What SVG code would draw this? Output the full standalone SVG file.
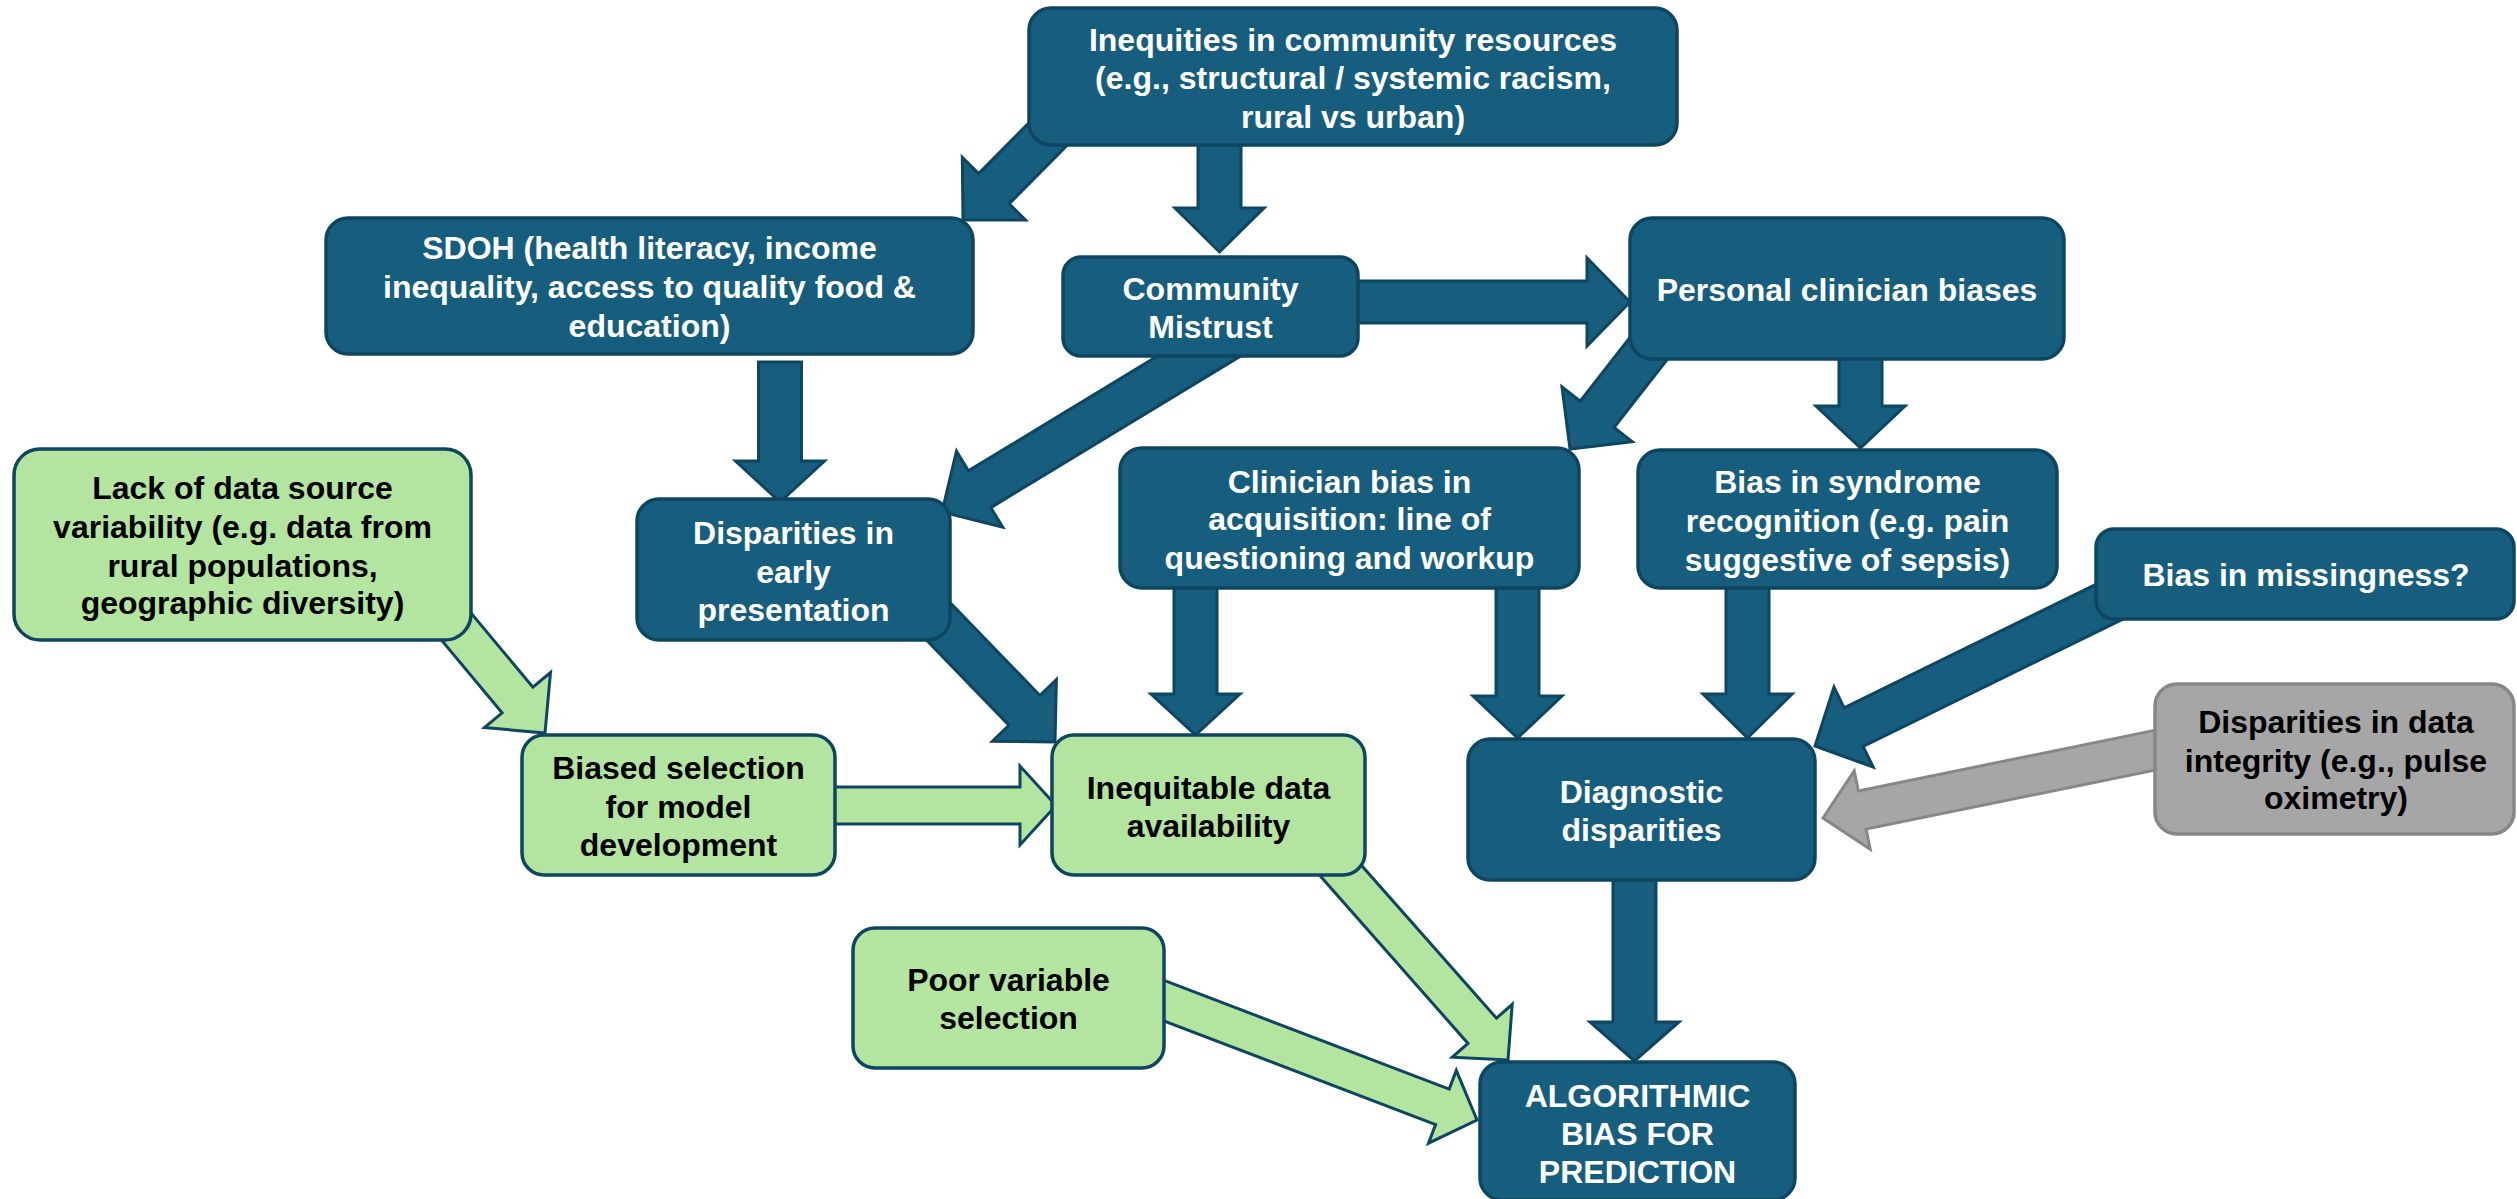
<svg xmlns="http://www.w3.org/2000/svg" width="2517" height="1199" viewBox="0 0 2517 1199">
<style>
  .blue { fill: #175E7E; stroke: #0E4560; stroke-width: 3.5; }
  .green { fill: #B3E5A1; stroke: #0E4560; stroke-width: 3.5; }
  .gray { fill: #A6A6A6; stroke: #878787; stroke-width: 3.5; }
  .ab { fill: #175E7E; stroke: #0E4560; stroke-width: 3; stroke-linejoin: miter; }
  .ag { fill: #B3E5A1; stroke: #0E4560; stroke-width: 3; stroke-linejoin: miter; }
  .agr { fill: #A6A6A6; stroke: #878787; stroke-width: 3; stroke-linejoin: miter; }
  text { font-family: "Liberation Sans", Arial, sans-serif; font-weight: bold; font-size: 32px; text-anchor: middle; }
  .tw { fill: #FFFFFF; }
  .tk { fill: #000000; }
</style>
<rect width="2517" height="1199" fill="#FFFFFF"/>
<g id="connectors">
  <polygon class="ab" points="1053.2,98.2 978.6,173.6 962.3,157.4 963,220 1025.5,220 1009.2,203.8 1083.8,128.4"/>
  <polygon class="ab" points="1198,140 1198,208 1175,208 1219.5,252 1264,208 1241,208 1241,140"/>
  <polygon class="ab" points="1350,281 1587,281 1587,258 1630,302 1587,346 1587,323 1350,323"/>
  <polygon class="ab" points="1651.7,309.7 1580.2,401.1 1562,386.9 1570,449 1632.2,441.7 1614,427.5 1685.5,336.1"/>
  <polygon class="ab" points="1839,354 1839,406 1816,406 1860.5,448 1905,406 1882,406 1882,354"/>
  <polygon class="ab" points="1225.8,314.6 968.4,470.8 956.5,451.2 942,512 1002.7,527.2 990.8,507.6 1248.2,351.4"/>
  <polygon class="ab" points="758.5,362 758.5,461 735.5,461 780,502 824.5,461 801.5,461 801.5,362"/>
  <polygon class="ab" points="900.5,613.1 1008.9,725.3 992.4,741.3 1055,742 1056.4,679.5 1039.9,695.5 931.5,583.3"/>
  <polygon class="ab" points="1174,583 1174,694 1151,694 1195.5,735 1240,694 1217,694 1217,583"/>
  <polygon class="ab" points="1496,583 1496,696 1473,696 1517.5,738 1562,696 1539,696 1539,583"/>
  <polygon class="ab" points="1726,583 1726,694 1703,694 1747.5,738 1792,694 1769,694 1769,583"/>
  <polygon class="ab" points="2110.8,577.1 1844.1,707.8 1834,687.1 1815,746 1873.2,767.1 1863.1,746.4 2129.8,615.7"/>
  <polygon class="agr" points="2161.8,728.9 1858.3,790.9 1854.2,770.8 1823,818 1870.2,849.2 1866.1,829.1 2169.6,767.1"/>
  <polygon class="ab" points="1613,876 1613,1022 1590,1022 1634.5,1061 1679,1022 1656,1022 1656,876"/>
  <polygon class="ag" points="414.4,607.6 502.1,712.8 484.5,727.5 545,733 550.5,672.5 532.9,687.2 445.2,582"/>
  <polygon class="ag" points="830,787 1020,787 1020,766 1056,805.5 1020,845 1020,824 830,824"/>
  <polygon class="ag" points="1308.4,862.6 1468,1043.4 1452.2,1057.3 1508,1060 1512.2,1004.3 1496.5,1018.2 1336.8,837.4"/>
  <polygon class="ag" points="1143.3,1013.1 1435.6,1124.5 1428.5,1143.2 1477,1120 1456.3,1070.4 1449.2,1089.1 1156.9,977.7"/>
</g>
<g id="node-inequities">
  <rect class="blue" x="1029" y="8" width="648" height="137" rx="22"/>
  <text class="tw" x="1353" y="51">Inequities in community resources</text>
  <text class="tw" x="1353" y="89">(e.g., structural / systemic racism,</text>
  <text class="tw" x="1353" y="128">rural vs urban)</text>
</g>
<g id="node-sdoh">
  <rect class="blue" x="326" y="218" width="647" height="136" rx="22"/>
  <text class="tw" x="649.5" y="259">SDOH (health literacy, income</text>
  <text class="tw" x="649.5" y="298">inequality, access to quality food &amp;</text>
  <text class="tw" x="649.5" y="337">education)</text>
</g>
<g id="node-community-mistrust">
  <rect class="blue" x="1063" y="257" width="295" height="99" rx="18"/>
  <text class="tw" x="1210.5" y="300">Community</text>
  <text class="tw" x="1210.5" y="338">Mistrust</text>
</g>
<g id="node-personal-clinician-biases">
  <rect class="blue" x="1630" y="218" width="434" height="141" rx="22"/>
  <text class="tw" x="1847" y="301">Personal clinician biases</text>
</g>
<g id="node-disparities-early">
  <rect class="blue" x="637" y="499" width="313" height="141" rx="22"/>
  <text class="tw" x="793.5" y="544">Disparities in</text>
  <text class="tw" x="793.5" y="583">early</text>
  <text class="tw" x="793.5" y="621">presentation</text>
</g>
<g id="node-lack-of-data">
  <rect class="green" x="14" y="449" width="457" height="191" rx="26"/>
  <text class="tk" x="242.5" y="499">Lack of data source</text>
  <text class="tk" x="242.5" y="538">variability (e.g. data from</text>
  <text class="tk" x="242.5" y="577">rural populations,</text>
  <text class="tk" x="242.5" y="614">geographic diversity)</text>
</g>
<g id="node-biased-selection">
  <rect class="green" x="522" y="735" width="313" height="140" rx="22"/>
  <text class="tk" x="678.5" y="779">Biased selection</text>
  <text class="tk" x="678.5" y="818">for model</text>
  <text class="tk" x="678.5" y="856">development</text>
</g>
<g id="node-clinician-bias-acquisition">
  <rect class="blue" x="1120" y="448" width="459" height="140" rx="22"/>
  <text class="tw" x="1349.5" y="493">Clinician bias in</text>
  <text class="tw" x="1349.5" y="530">acquisition: line of</text>
  <text class="tw" x="1349.5" y="569">questioning and workup</text>
</g>
<g id="node-bias-syndrome">
  <rect class="blue" x="1638" y="450" width="419" height="138" rx="22"/>
  <text class="tw" x="1847.5" y="493">Bias in syndrome</text>
  <text class="tw" x="1847.5" y="532">recognition (e.g. pain</text>
  <text class="tw" x="1847.5" y="571">suggestive of sepsis)</text>
</g>
<g id="node-bias-missingness">
  <rect class="blue" x="2096" y="529" width="418" height="90" rx="18"/>
  <text class="tw" x="2306" y="586">Bias in missingness?</text>
</g>
<g id="node-inequitable-data">
  <rect class="green" x="1052" y="735" width="313" height="140" rx="22"/>
  <text class="tk" x="1208.5" y="799">Inequitable data</text>
  <text class="tk" x="1208.5" y="837">availability</text>
</g>
<g id="node-diagnostic-disparities">
  <rect class="blue" x="1468" y="739" width="347" height="141" rx="22"/>
  <text class="tw" x="1641.5" y="803">Diagnostic</text>
  <text class="tw" x="1641.5" y="841">disparities</text>
</g>
<g id="node-data-integrity">
  <rect class="gray" x="2155" y="684" width="359" height="150" rx="22"/>
  <text class="tk" x="2336" y="733">Disparities in data</text>
  <text class="tk" x="2336" y="772">integrity (e.g., pulse</text>
  <text class="tk" x="2336" y="809">oximetry)</text>
</g>
<g id="node-poor-variable">
  <rect class="green" x="853" y="928" width="311" height="140" rx="22"/>
  <text class="tk" x="1008.5" y="991">Poor variable</text>
  <text class="tk" x="1008.5" y="1029">selection</text>
</g>
<g id="node-algorithmic-bias">
  <rect class="blue" x="1480" y="1062" width="315" height="138" rx="22"/>
  <text class="tw" x="1637.5" y="1107">ALGORITHMIC</text>
  <text class="tw" x="1637.5" y="1145">BIAS FOR</text>
  <text class="tw" x="1637.5" y="1183">PREDICTION</text>
</g>
</svg>
